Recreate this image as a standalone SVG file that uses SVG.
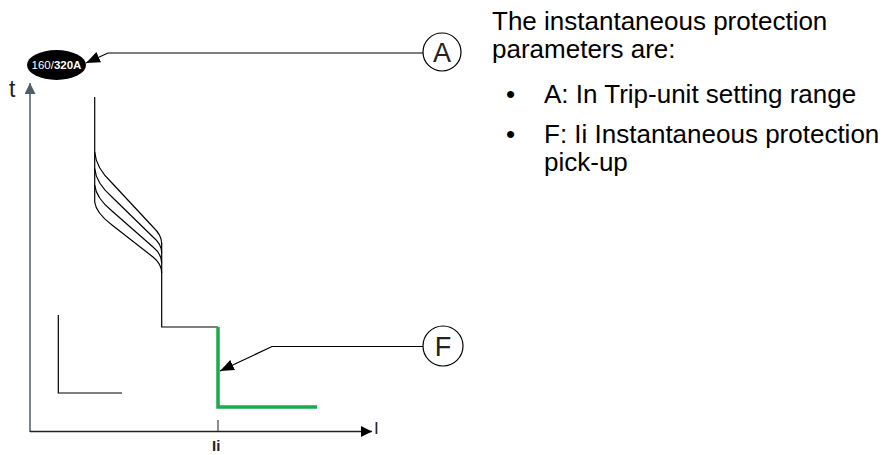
<svg xmlns="http://www.w3.org/2000/svg" width="894" height="455" viewBox="0 0 894 455">
<defs>
<style>
.ln{fill:none;stroke:#000;stroke-width:1.2}
.grn{fill:none;stroke:#1aab4b;stroke-width:3.5}
.ax{fill:none;stroke:#4f5d68;stroke-width:1.5}
.ax2{fill:none;stroke:#222;stroke-width:1.5}
.lead{fill:none;stroke:#000;stroke-width:1.2}
.circ{fill:#fff;stroke:#000;stroke-width:1.2}
.lbl{font-family:"Liberation Sans",Arial,sans-serif;fill:#222}
.body{font-family:"Liberation Sans",Arial,sans-serif;font-size:26px;fill:#000}
</style>
<marker id="ah" viewBox="0 0 10 10" refX="10" refY="5" markerWidth="14" markerHeight="14" markerUnits="userSpaceOnUse" orient="auto">
<path d="M0,1 L10,5 L0,9 z" fill="#000"/>
</marker>
<marker id="axh" viewBox="0 0 10 10" refX="10" refY="5" markerWidth="11" markerHeight="11" markerUnits="userSpaceOnUse" orient="auto">
<path d="M0,0 L10,5 L0,10 z" fill="#4f5d68"/>
</marker>
<marker id="axh2" viewBox="0 0 10 10" refX="10" refY="5" markerWidth="17" markerHeight="11" markerUnits="userSpaceOnUse" orient="auto">
<path d="M0,0 L10,5 L0,10 z" fill="#000"/>
</marker>
</defs>

<g id="axes">
<line class="ax" x1="30" y1="432" x2="30" y2="83" marker-end="url(#axh)"/>
<line class="ax2" x1="30" y1="431.5" x2="372" y2="431.5" marker-end="url(#axh2)"/>
<line x1="218" y1="420" x2="218" y2="431" stroke="#666" stroke-width="1.5"/>
<text class="lbl" x="9" y="97" font-size="23">t</text>
<text class="lbl" x="374" y="433.5" font-size="17">I</text>
<text class="lbl" x="212" y="451" font-size="15" font-weight="bold">Ii</text>
</g>

<g id="curve">
<path class="ln" d="M94.7,97 L94.7,202"/>
<path class="ln" d="M94.7,152 Q96,168 112,183 L153,227 Q161.7,235 161.7,244"/>
<path class="ln" d="M94.7,168.5 Q96,183 112,197 L153,237 Q161.7,244 161.7,253"/>
<path class="ln" d="M94.7,185 Q96,198 112,211 L153,247 Q161.7,254 161.7,263"/>
<path class="ln" d="M94.7,202 Q96,213 112,225 L153,257 Q161.7,264 161.7,273"/>
<path class="ln" d="M161.7,243 L161.7,327 L218,327"/>
<path class="ln" d="M58.3,315 L58.3,393 L122,393"/>
</g>

<g id="instantaneous">
<path class="grn" d="M218,327 L218,407 L317,407"/>
</g>

<g id="rating">
<ellipse cx="56.5" cy="65" rx="29.5" ry="15" fill="#000"/>
<text x="56.5" y="69" text-anchor="middle" font-family="Liberation Sans,Arial,sans-serif" font-size="11.5" fill="#fff">160/<tspan font-weight="bold">320A</tspan></text>
</g>

<g id="connectors">
<path class="lead" d="M423,53 L108,53 L86,63" marker-end="url(#ah)"/>
<path class="lead" d="M423,346.5 L272,346.5 L220,371" marker-end="url(#ah)"/>
</g>

<g id="callout-A">
<circle class="circ" cx="442" cy="52" r="19"/>
<text class="lbl" x="442" y="61.5" font-size="27" text-anchor="middle">A</text>
</g>

<g id="callout-F">
<circle class="circ" cx="443" cy="346" r="20"/>
<text class="lbl" x="443" y="355.5" font-size="27" text-anchor="middle">F</text>
</g>

<g id="description">
<text class="body" x="492" y="30">The instantaneous protection</text>
<text class="body" x="492" y="58">parameters are:</text>
<text class="body" x="506" y="102.5">•</text>
<text class="body" x="544" y="102.5">A: In Trip-unit setting range</text>
<text class="body" x="506" y="143">•</text>
<text class="body" x="544" y="143">F: Ii Instantaneous protection</text>
<text class="body" x="544" y="171">pick-up</text>
</g>
</svg>
